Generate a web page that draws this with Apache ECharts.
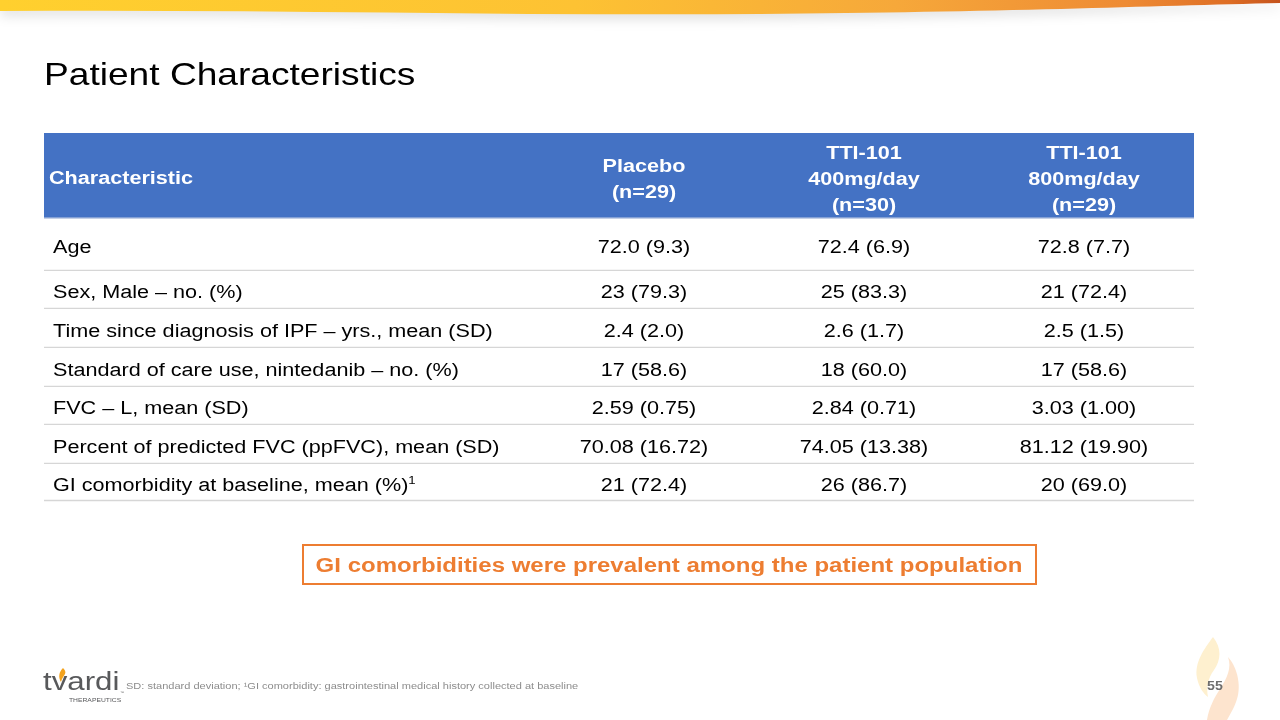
<!DOCTYPE html>
<html>
<head>
<meta charset="utf-8">
<title>Patient Characteristics</title>
<script src="https://cdn.jsdelivr.net/npm/echarts/dist/echarts.min.js"></script>
<style>
  html, body { margin: 0; padding: 0; background: #ffffff; }
  #chart { width: 1280px; height: 720px; }
</style>
</head>
<body>
<div id="chart"></div>
<script>
// ---------------- data ----------------
const pageTitle = 'Patient Characteristics';
const headerLabel = 'Characteristic';
const groupLabels = ['Placebo\n(n=29)', 'TTI-101\n400mg/day\n(n=30)', 'TTI-101\n800mg/day\n(n=29)'];
const rowLabels = [
  'Age',
  'Sex, Male \u2013 no. (%)',
  'Time since diagnosis of IPF \u2013 yrs., mean (SD)',
  'Standard of care use, nintedanib \u2013 no. (%)',
  'FVC \u2013 L, mean (SD)',
  'Percent of predicted FVC (ppFVC), mean (SD)',
  'GI comorbidity at baseline, mean (%)'
];
const rowNotes = ['', '', '', '', '', '', '1'];
const placebo = ['72.0 (9.3)', '23 (79.3)', '2.4 (2.0)', '17 (58.6)', '2.59 (0.75)', '70.08 (16.72)', '21 (72.4)'];
const tti400  = ['72.4 (6.9)', '25 (83.3)', '2.6 (1.7)', '18 (60.0)', '2.84 (0.71)', '74.05 (13.38)', '26 (86.7)'];
const tti800  = ['72.8 (7.7)', '21 (72.4)', '2.5 (1.5)', '17 (58.6)', '3.03 (1.00)', '81.12 (19.90)', '20 (69.0)'];
const calloutText = 'GI comorbidities were prevalent among the patient population';
const footnoteText = 'SD: standard deviation; \u00B9GI comorbidity: gastrointestinal medical history collected at baseline';
const pageNumber = '55';

// ---------------- layout / style ----------------
const groupValues = [placebo, tti400, tti800];
const COL_EDGES = [0, 490, 710, 930, 1150];            // table-space units
const ROW_EDGES = [0, 86, 138, 176, 215, 254, 292, 331, 368];
const SX = 1.2;                                          // horizontal text stretch of the slide
const FF = "'Liberation Sans', Arial, sans-serif";
const FS = 18;
const HEADER_BLUE = '#4472C4';
const ORANGE = '#ED7D31';

const cells = [];
for (let r = -1; r < rowLabels.length; r++) {
  for (let c = 0; c < 4; c++) cells.push([c, r]);
}

function renderCell(params, api) {
  const c = api.value(0), r = api.value(1);
  const tl = api.coord([COL_EDGES[c], ROW_EDGES[r + 1]]);
  const br = api.coord([COL_EDGES[c + 1], ROW_EDGES[r + 2]]);
  const x0 = Math.round(tl[0]), y0 = Math.round(tl[1]);
  const x1 = Math.round(br[0]), y1 = Math.round(br[1]);
  const header = r < 0;
  const children = [];
  children.push({ type: 'rect', shape: { x: x0, y: y0, width: x1 - x0, height: y1 - y0 },
    style: { fill: header ? HEADER_BLUE : '#ffffff' } });
  children.push({ type: 'line', shape: { x1: x0, y1: y1 - 0.5, x2: x1, y2: y1 - 0.5 },
    style: { stroke: header ? '#C5D0E6' : '#D6D6D6', lineWidth: header ? 2 : 1.5 } });
  if (c < 3) {
    children.push({ type: 'line', shape: { x1: x1 + 0.5, y1: y0, x2: x1 + 0.5, y2: y1 },
      style: { stroke: header ? '#7F9FD6' : '#D9D9D9', lineWidth: 1 } });
  }
  const cy = (y0 + y1) / 2 + 3.5;
  let txt;
  if (header) {
    if (c === 0) {
      txt = { type: 'text', x: x0 + 5, y: cy, scaleX: SX,
        style: { text: headerLabel, fill: '#ffffff', font: 'bold ' + FS + 'px ' + FF, align: 'left', verticalAlign: 'middle' } };
    } else {
      txt = { type: 'text', x: (x0 + x1) / 2, y: cy + 0.5, scaleX: SX,
        style: { text: groupLabels[c - 1], fill: '#ffffff', font: 'bold ' + FS + 'px ' + FF, align: 'center',
          verticalAlign: 'middle', lineHeight: 26 } };
    }
  } else if (c === 0) {
    const note = rowNotes[r];
    if (note) {
      txt = { type: 'text', x: x0 + 9, y: cy, scaleX: SX,
        style: { text: '{t|' + rowLabels[r] + '}{s|' + note + '}', align: 'left', verticalAlign: 'middle',
          rich: {
            t: { fontFamily: FF, fontSize: FS, fill: '#000000', lineHeight: 22 },
            s: { fontFamily: FF, fontSize: 11, fill: '#000000', verticalAlign: 'top', lineHeight: 11 }
          } } };
    } else {
      txt = { type: 'text', x: x0 + 9, y: cy, scaleX: SX,
        style: { text: rowLabels[r], fill: '#000000', font: FS + 'px ' + FF, align: 'left', verticalAlign: 'middle' } };
    }
  } else {
    txt = { type: 'text', x: (x0 + x1) / 2, y: cy, scaleX: SX,
      style: { text: groupValues[c - 1][r], fill: '#000000', font: FS + 'px ' + FF, align: 'center', verticalAlign: 'middle' } };
  }
  children.push(txt);
  return { type: 'group', children: children };
}

const bandGradient = {
  type: 'linear', x: 0, y: 0, x2: 1, y2: 0,
  colorStops: [
    { offset: 0, color: '#FFD02E' },
    { offset: 0.45, color: '#FDC233' },
    { offset: 0.7, color: '#F6A83A' },
    { offset: 0.88, color: '#EE8B34' },
    { offset: 0.96, color: '#DE6E25' },
    { offset: 1, color: '#C4521C' }
  ]
};

// slide decorations (not data): wave band, watermark flames, logo flame
function renderDecor() {
  return { type: 'group', children: [
    { type: 'path', shape: { pathData: 'M0 0 L1280 0 L1280 3 C1150 6 1000 12 760 14 C520 16 260 9 0 11 Z' },
      style: { fill: bandGradient, shadowColor: 'rgba(0,0,0,0.12)', shadowBlur: 12, shadowOffsetY: 5 } },
    { type: 'path', shape: { pathData: 'M1213 637 C1205 648 1194 662 1197 678 C1199 688 1204 694 1208 697 C1206 688 1208 678 1214 670 C1221 660 1222 648 1213 637 Z' },
      style: { fill: '#FEF0CF' } },
    { type: 'path', shape: { pathData: 'M1228 657 C1238 668 1242 688 1236 702 C1233 710 1229 716 1227 720 L1207 720 C1209 708 1214 698 1220 689 C1227 678 1232 668 1228 657 Z' },
      style: { fill: '#FDE4CE' } },
    { type: 'path', shape: { pathData: 'M63 668 C59 672 58 677 61 682 C62 678 64 676 65 674 C66 672 65 670 63 668 Z' },
      style: { fill: '#F3A21D' } }
  ] };
}

const chart = echarts.init(document.getElementById('chart'), null, { renderer: 'canvas' });

const option = {
  backgroundColor: '#ffffff',
  animation: false,
  grid: { left: 44, top: 133, width: 1150, height: 368 },
  xAxis: { type: 'value', min: 0, max: 1150, show: false },
  yAxis: { type: 'value', min: 0, max: 368, inverse: true, show: false },
  series: [{
    type: 'custom',
    renderItem: renderCell,
    data: cells,
    silent: true,
    clip: false
  }, {
    type: 'custom',
    coordinateSystem: 'none',
    renderItem: renderDecor,
    data: [[0]],
    silent: true,
    z: 0
  }],
  graphic: [
    { type: 'text', x: 44, y: 76, scaleX: 1.16,
      style: { text: pageTitle, font: '32px ' + FF, fill: '#000000', align: 'left', verticalAlign: 'middle' } },
    { type: 'rect', shape: { x: 303, y: 545, width: 733, height: 39 },
      style: { fill: '#ffffff', stroke: ORANGE, lineWidth: 2 } },
    { type: 'text', x: 669, y: 566, scaleX: 1.2,
      style: { text: calloutText, font: 'bold 20px ' + FF, fill: ORANGE, align: 'center', verticalAlign: 'middle' } },
    { type: 'text', x: 1215, y: 686, scaleX: 1.05, z: 10,
      style: { text: pageNumber, font: 'bold 13.5px ' + FF, fill: '#6E6E6E', align: 'center', verticalAlign: 'middle' } },
    { type: 'text', x: 126, y: 686, scaleX: SX,
      style: { text: footnoteText, font: '9.2px ' + FF, fill: '#8C8C8C', align: 'left', verticalAlign: 'middle' } },
    { type: 'text', x: 43, y: 683, scaleX: 1.25,
      style: { text: 'tvardi', font: '25px ' + FF, fill: '#58595B', align: 'left', verticalAlign: 'middle' } },
    { type: 'text', x: 69, y: 701, scaleX: 1.35,
      style: { text: 'THERAPEUTICS', font: '5px ' + FF, fill: '#58595B', align: 'left', verticalAlign: 'middle' } },
    { type: 'text', x: 120, y: 693,
      style: { text: '\u2122', font: '4px ' + FF, fill: '#6E6E6E', align: 'left', verticalAlign: 'middle' } }
  ]
};
chart.setOption(option);
</script>
</body>
</html>
